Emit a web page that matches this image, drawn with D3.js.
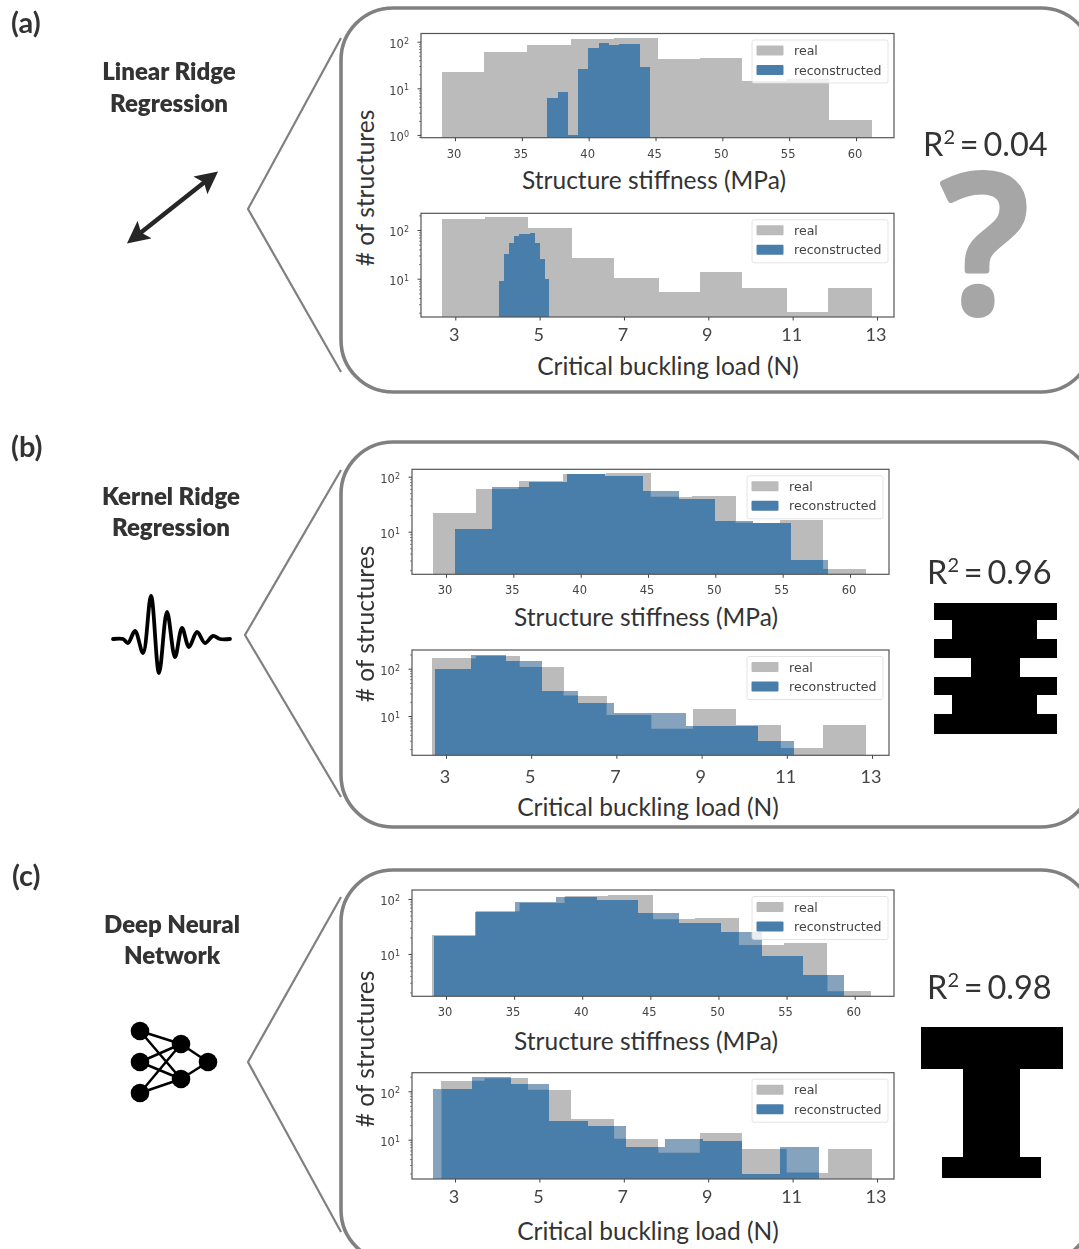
<!DOCTYPE html>
<html>
<head>
<meta charset="utf-8">
<script src="https://cdn.jsdelivr.net/npm/d3@7"></script>
<style>
  html, body { margin: 0; padding: 0; background: #fff; }
  svg { display: block; }
  text { font-family: Lato, "Open Sans", sans-serif; fill: #333; }
  .mpl text { font-family: "DejaVu Sans", sans-serif; fill: #444; }
</style>
</head>
<body>
<div id="chart"></div>
<script>
// Ground truth histograms, same in all three panels
const stiffnessEdges = [29.0, 32.2, 35.4, 38.7, 41.9, 45.2, 48.3, 51.5, 54.8, 58.0, 61.2];
const realStiffness = [22, 60, 85, 112, 118, 43, 45, 14.5, 16, 2.1];
const bucklingEdges = [2.68, 3.70, 4.73, 5.76, 6.77, 7.82, 8.80, 9.81, 10.86, 11.84, 12.87];
const realBuckling = [165, 185, 108, 27, 10.5, 5.4, 14, 6.4, 2.1, 6.4];

// Reconstructed histograms
const linearStiffnessEdges = [36.9, 37.67, 38.44, 39.21, 39.98, 40.75, 41.52, 42.29, 43.06, 43.83, 44.6];
const linearStiffness = [6.2, 8.3, 1, 26.6, 74, 95, 85, 90, 90, 29];
const linearBucklingEdges = [4.04, 4.16, 4.28, 4.4, 4.52, 4.64, 4.76, 4.88, 5.0, 5.12, 5.23];
const linearBuckling = [9, 32, 55, 76, 81, 83, 87, 53, 25, 10];

const kernelStiffnessEdges = [30.65, 33.4, 36.2, 39.0, 41.8, 44.6, 47.3, 50.0, 52.8, 55.6, 58.4];
const kernelStiffness = [11, 64, 81, 113, 103, 55.6, 38.7, 15.4, 14.2, 3.1];
const kernelBucklingEdges = [2.74, 3.59, 4.42, 5.26, 6.11, 6.95, 7.79, 8.64, 9.49, 10.33, 11.17];
const kernelBuckling = [98, 195, 145, 33.7, 18.5, 11.4, 11.4, 6.15, 6.15, 2.9];

const deepStiffnessEdges = [29.1, 32.1, 35.1, 38.1, 41.1, 44.1, 47.1, 50.2, 53.2, 56.2, 59.2];
const deepStiffness = [21.5, 59, 88, 110, 94.6, 55, 37, 25.5, 9.3, 4.15];
const deepBucklingEdges = [2.49, 3.40, 4.32, 5.23, 6.14, 7.06, 7.97, 8.88, 9.80, 10.71, 11.62];
const deepBuckling = [112, 195, 144, 24.3, 19.2, 7.2, 10.3, 9.25, 2.0, 7.2];

const stiffnessTicks = [30, 35, 40, 45, 50, 55, 60];
const bucklingTicks = [3, 5, 7, 9, 11, 13];
const legendLabels = ['real', 'reconstructed'];

const colorReal = '#bbbbbb';
const colorRecon = '#4a7eaa';
const colorReconLight = '#86a3bd';

const width = 1079, height = 1249;

const svg = d3.select('#chart').append('svg')
  .attr('width', width)
  .attr('height', height);

const defs = svg.append('defs');
defs.append('filter').attr('id', 'soft')
  .append('feGaussianBlur').attr('stdDeviation', 0.5);

function drawHist(opt) {
  const x = d3.scaleLinear().domain(opt.xAnchor).range(opt.xPixels);
  const y = d3.scaleLog().domain([10, 100]).range(opt.yPixels);
  const baseline = opt.bottom;

  const g = svg.append('g').attr('class', 'mpl').attr('filter', 'url(#soft)');

  const clipId = 'clip-' + opt.id;
  const clip = defs.append('clipPath').attr('id', clipId);
  function bars(parent, edges, values) {
    return parent.selectAll(null)
      .data(values)
      .enter()
      .append('rect')
        .attr('shape-rendering', 'crispEdges')
        .attr('x', (d, i) => x(edges[i]))
        .attr('width', (d, i) => x(edges[i + 1]) - x(edges[i]))
        .attr('y', d => y(d))
        .attr('height', d => baseline - y(d));
  }

  bars(g, opt.realEdges, opt.real).attr('fill', colorReal);
  // Blue only looks dark where it lies on top of the grey
  bars(g, opt.reconEdges, opt.recon).attr('fill', colorReconLight);
  bars(clip, opt.realEdges, opt.real);
  bars(g.append('g').attr('clip-path', 'url(#' + clipId + ')'), opt.reconEdges, opt.recon)
    .attr('fill', colorRecon);

  // Legend
  const lx = opt.right - 142, ly = opt.top + 6.5;
  g.append('rect')
    .attr('x', lx).attr('y', ly).attr('width', 136).attr('height', 43)
    .attr('rx', 2)
    .attr('fill', 'white').attr('fill-opacity', 0.8)
    .attr('stroke', '#ddd').attr('stroke-width', 0.8);
  legendLabels.forEach((label, i) => {
    g.append('rect')
      .attr('x', lx + 4.5).attr('y', ly + 5.5 + i * 19.5)
      .attr('width', 27).attr('height', 10)
      .attr('rx', 1)
      .attr('fill', i == 0 ? colorReal : colorRecon);
    g.append('text')
      .attr('x', lx + 42).attr('y', ly + 15 + i * 19.5)
      .attr('font-size', 12.6)
      .text(label);
  });

  // Frame
  g.append('rect')
    .attr('x', opt.left).attr('y', opt.top)
    .attr('width', opt.right - opt.left).attr('height', opt.bottom - opt.top)
    .attr('fill', 'none').attr('stroke', '#555').attr('stroke-width', 1.2);

  // X axis, ticks in the small font on stiffness and large one on buckling
  const xAxis = g.append('g')
    .attr('transform', 'translate(0,' + opt.bottom + ')')
    .call(d3.axisBottom(x).tickValues(opt.ticks).tickSize(3.5).tickPadding(opt.tickPad));
  xAxis.select('.domain').remove();
  xAxis.selectAll('line').attr('stroke', '#444');
  xAxis.selectAll('text')
    .attr('font-size', opt.big ? 18 : 11.5)
    .attr('dx', -1.5)
    .style('font-family', opt.big ? 'Lato, sans-serif' : null);

  // Y axis, log ticks, minor ones first
  const yMin = y.invert(opt.bottom), yMax = y.invert(opt.top);
  const allTicks = y.copy().domain([yMin, yMax]).ticks();
  const minor = allTicks.filter(t => Math.log10(t) % 1 != 0);
  const major = allTicks.filter(t => Math.log10(t) % 1 == 0);

  const yMinor = g.append('g')
    .attr('transform', 'translate(' + opt.left + ',0)')
    .call(d3.axisLeft(y).tickValues(minor).tickSize(2).tickFormat(''));
  yMinor.select('.domain').remove();
  yMinor.selectAll('line').attr('stroke', '#555').attr('stroke-width', 0.7);

  const yMajor = g.append('g')
    .attr('transform', 'translate(' + opt.left + ',0)')
    .call(d3.axisLeft(y).tickValues(major).tickSize(3.5).tickFormat(''));
  yMajor.select('.domain').remove();
  yMajor.selectAll('line').attr('stroke', '#444');
  yMajor.selectAll('.tick').each(function (d) {
    const t = d3.select(this).select('text')
      .attr('font-size', 11.5).attr('x', -12).attr('dy', '0.5em');
    t.append('tspan').text('10');
    t.append('tspan').attr('font-size', 8).attr('dy', '-0.55em').text(Math.log10(d));
  });

  // Axis title
  svg.append('text')
    .attr('x', opt.labelX).attr('y', opt.labelY)
    .attr('text-anchor', 'middle')
    .attr('font-size', 24.5)
    .text(opt.label);
}

const stiffnessLabel = 'Structure stiffness (MPa)';
const bucklingLabel = 'Critical buckling load (N)';

const histOptions = [
  { id: 'a1', left: 421, right: 894, top: 33.5, bottom: 137.7, xAnchor: [30, 60], xPixels: [455, 856], yPixels: [88.3, 41.7],
    realEdges: stiffnessEdges, real: realStiffness, reconEdges: linearStiffnessEdges, recon: linearStiffness,
    ticks: stiffnessTicks, big: false, tickPad: 9, label: stiffnessLabel, labelX: 654, labelY: 189 },
  { id: 'a2', left: 421, right: 894, top: 213.3, bottom: 317, xAnchor: [3, 13], xPixels: [455.3, 877], yPixels: [278.7, 230],
    realEdges: bucklingEdges, real: realBuckling, reconEdges: linearBucklingEdges, recon: linearBuckling,
    ticks: bucklingTicks, big: true, tickPad: 8, label: bucklingLabel, labelX: 668, labelY: 375 },
  { id: 'b1', left: 412, right: 889, top: 469.3, bottom: 574.3, xAnchor: [30, 60], xPixels: [446, 850], yPixels: [531.7, 476.7],
    realEdges: stiffnessEdges, real: realStiffness, reconEdges: kernelStiffnessEdges, recon: kernelStiffness,
    ticks: stiffnessTicks, big: false, tickPad: 8, label: stiffnessLabel, labelX: 646, labelY: 626 },
  { id: 'b2', left: 412, right: 889, top: 650, bottom: 755.3, xAnchor: [3, 13], xPixels: [446, 872], yPixels: [716, 668.7],
    realEdges: bucklingEdges, real: realBuckling, reconEdges: kernelBucklingEdges, recon: kernelBuckling,
    ticks: bucklingTicks, big: true, tickPad: 11, label: bucklingLabel, labelX: 648, labelY: 816 },
  { id: 'c1', left: 412, right: 894, top: 890, bottom: 996.3, xAnchor: [30, 60], xPixels: [446, 854.7], yPixels: [954, 899],
    realEdges: stiffnessEdges, real: realStiffness, reconEdges: deepStiffnessEdges, recon: deepStiffness,
    ticks: stiffnessTicks, big: false, tickPad: 8, label: stiffnessLabel, labelX: 646, labelY: 1050 },
  { id: 'c2', left: 412, right: 894, top: 1072.7, bottom: 1179, xAnchor: [3, 13], xPixels: [455, 877], yPixels: [1139.7, 1091.3],
    realEdges: bucklingEdges, real: realBuckling, reconEdges: deepBucklingEdges, recon: deepBuckling,
    ticks: bucklingTicks, big: true, tickPad: 8, label: bucklingLabel, labelX: 648, labelY: 1240 }
];

// Callout boxes with their wedge towards the method icon
const callouts = [
  { top: 8, bottom: 392, apexX: 248, apexY: 209, wedgeTop: 38, wedgeBottom: 372 },
  { top: 442, bottom: 827, apexX: 245, apexY: 635, wedgeTop: 470, wedgeBottom: 797 },
  { top: 870, bottom: 1262, apexX: 248, apexY: 1062, wedgeTop: 897, wedgeBottom: 1232 }
];

callouts.forEach(c => {
  svg.append('rect')
    .attr('x', 341).attr('y', c.top)
    .attr('width', 752).attr('height', c.bottom - c.top)
    .attr('rx', 52)
    .attr('fill', 'none').attr('stroke', '#808080').attr('stroke-width', 3.6);
  svg.append('path')
    .attr('d', d3.line()([[341, c.wedgeTop], [c.apexX, c.apexY], [341, c.wedgeBottom]]))
    .attr('fill', 'none').attr('stroke', '#808080').attr('stroke-width', 2.2);
});

histOptions.forEach(drawHist);

// Shared y titles
[[366, 188], [366, 624], [366, 1049]].forEach(p => {
  svg.append('text')
    .attr('transform', 'translate(' + (p[0] + 8) + ',' + p[1] + ') rotate(-90)')
    .attr('text-anchor', 'middle')
    .attr('font-size', 24.5)
    .text('# of structures');
});

// Panel letters and method names
[['(a)', 11, 33], ['(b)', 11, 457], ['(c)', 12, 886]].forEach(d => {
  svg.append('text').attr('x', d[1]).attr('y', d[2])
    .attr('font-size', 29).attr('font-weight', 700).text(d[0]);
});

[['Linear Ridge', 169, 80], ['Regression', 169, 112],
 ['Kernel Ridge', 171, 505], ['Regression', 171, 536],
 ['Deep Neural', 172, 933], ['Network', 172, 964]].forEach(d => {
  svg.append('text').attr('x', d[1]).attr('y', d[2])
    .attr('text-anchor', 'middle')
    .attr('font-size', 24).attr('font-weight', 800).text(d[0]);
});

// R squared labels
[['0.04', 923, 156], ['0.96', 927, 584], ['0.98', 927, 999]].forEach(d => {
  const t = svg.append('text').attr('x', d[1]).attr('y', d[2])
    .attr('font-size', 32.5).attr('word-spacing', -3.5);
  t.append('tspan').text('R');
  t.append('tspan').attr('font-size', 20).attr('dy', -12).text('2');
  t.append('tspan').attr('dy', 12).text(' = ' + d[0]);
});

// Stroked so the question mark gets the thick round look
svg.append('text')
  .attr('x', 985).attr('y', 312)
  .attr('text-anchor', 'middle')
  .attr('font-size', 192).attr('font-weight', 600)
  .attr('stroke', '#a6a6a6').attr('stroke-width', 6).attr('stroke-linejoin', 'round')
  .style('font-family', '"Open Sans", sans-serif')
  .style('fill', '#a6a6a6')
  .text('?');

// Double arrow icon, panel a
const arrow = defs.append('marker').attr('id', 'head')
  .attr('viewBox', '0 0 10 10').attr('refX', 6).attr('refY', 5)
  .attr('markerWidth', 5).attr('markerHeight', 5)
  .attr('orient', 'auto-start-reverse');
arrow.append('path').attr('d', 'M0,0L10,5L0,10L2,5Z').attr('fill', '#262626');
svg.append('line')
  .attr('x1', 134).attr('y1', 238).attr('x2', 211).attr('y2', 177)
  .attr('stroke', '#262626').attr('stroke-width', 4.5)
  .attr('marker-start', 'url(#head)').attr('marker-end', 'url(#head)');

// Wave icon, panel b
const wavePoints = [[113, 639], [123, 639], [128, 643], [135, 631], [143, 653], [151, 596], [159, 673],
  [167, 612], [175, 657], [182, 628], [189, 647], [197, 632], [205, 643], [213, 636], [220, 639], [230, 639]];
svg.append('path')
  .attr('d', d3.line().curve(d3.curveCatmullRom.alpha(0.5))(wavePoints))
  .attr('fill', 'none').attr('stroke', 'black').attr('stroke-width', 3.8).attr('stroke-linecap', 'round');

// Network icon, panel c
const netNodes = [[140, 1031], [140, 1062], [140, 1093], [181, 1044], [181, 1079], [208, 1062]];
const netLinks = [[0, 3], [0, 4], [1, 3], [1, 4], [2, 3], [2, 4], [3, 5], [4, 5]];
svg.selectAll('.netlink')
  .data(netLinks)
  .enter()
  .append('line')
    .attr('class', 'netlink')
    .attr('x1', d => netNodes[d[0]][0]).attr('y1', d => netNodes[d[0]][1])
    .attr('x2', d => netNodes[d[1]][0]).attr('y2', d => netNodes[d[1]][1])
    .attr('stroke', 'black').attr('stroke-width', 2.5);
svg.selectAll('.netnode')
  .data(netNodes)
  .enter()
  .append('circle')
    .attr('class', 'netnode')
    .attr('cx', d => d[0]).attr('cy', d => d[1]).attr('r', 9.3)
    .attr('fill', 'black');

// Reconstructed cross sections
const kernelShape = [[934, 603], [1057, 603], [1057, 620], [1037, 620], [1037, 639], [1057, 639], [1057, 658],
  [1020, 658], [1020, 677], [1057, 677], [1057, 695], [1037, 695], [1037, 714], [1057, 714], [1057, 734],
  [934, 734], [934, 714], [952, 714], [952, 695], [934, 695], [934, 677], [971, 677], [971, 658], [934, 658],
  [934, 639], [952, 639], [952, 620], [934, 620]];
const deepShape = [[921, 1027], [1063, 1027], [1063, 1069], [1020, 1069], [1020, 1157], [1041, 1157], [1041, 1178],
  [942, 1178], [942, 1157], [963, 1157], [963, 1069], [921, 1069]];
[kernelShape, deepShape].forEach(shape => {
  svg.append('path')
    .attr('d', d3.line().curve(d3.curveLinearClosed)(shape))
    .attr('fill', 'black');
});
</script>
</body>
</html>
